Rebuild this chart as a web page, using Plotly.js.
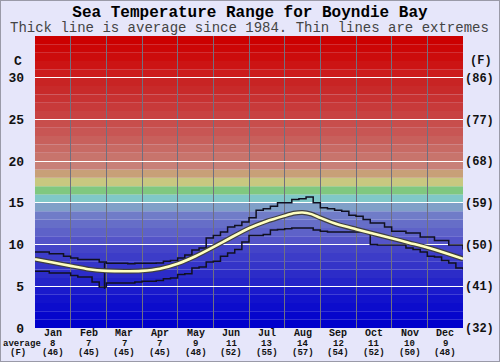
<!DOCTYPE html>
<html>
<head>
<meta charset="utf-8">
<script src="https://cdn.plot.ly/plotly-3.0.1.min.js"></script>
<style>
body{margin:0;background:#e6e6fa;}
#chart{width:500px;height:362px;}
#frame{position:absolute;left:0;top:0;width:498px;height:360px;border:1px solid #9a9aa8;pointer-events:none;}
</style>
</head>
<body>
<div id="chart"></div>
<div id="frame"></div>
<script>
// ---- data ----
const months = ['Jan','Feb','Mar','Apr','May','Jun','Jul','Aug','Sep','Oct','Nov','Dec'];
const monthAvgC = [8,7,7,7,9,11,13,14,12,11,10,9];
const monthAvgF = [46,45,45,45,48,52,55,57,54,52,50,48];

// average line (x in months from 1 Jan)
const avgX = [0,0.5,1,1.5,2,2.5,3,3.5,4,4.5,5,5.5,6,6.5,7,7.25,7.5,7.75,8,8.5,9,9.5,10,10.5,11,11.5,12];
const avgC = [8.25,7.85,7.45,7.05,6.85,6.8,6.85,7.1,7.7,8.6,9.7,10.85,11.95,12.8,13.45,13.75,13.85,13.65,13.2,12.4,11.85,11.3,10.75,10.2,9.65,9.0,8.3];

// extremes, sampled every 0.2 month
const maxC = [9.1,9.1,8.9,8.9,8.6,8.4,8.2,8.2,8.2,7.9,
              7.75,7.75,7.75,7.7,7.75,7.75,7.75,7.8,8.0,8.1,
              8.4,8.75,9.35,9.6,10.8,11.1,11.5,12.1,12.3,12.7,
              13.2,14.1,14.3,14.6,15.0,15.0,15.4,15.5,15.7,15.0,
              14.4,14.3,14.1,14.0,13.5,13.4,13.0,12.6,12.6,12.1,
              11.6,11.6,11.4,11.4,10.9,10.9,10.5,10.5,9.95,9.95,9.4];
const minC = [6.8,6.8,6.6,6.6,6.6,6.3,6.1,6.1,5.5,4.9,
              5.4,5.4,5.4,5.4,5.5,5.6,5.6,5.7,5.9,6.0,
              6.4,6.5,7.2,7.3,7.9,8.0,8.6,9.0,9.4,10.3,
              11.1,11.1,11.2,11.75,11.8,11.9,12.0,12.0,12.0,11.75,
              11.6,11.5,11.5,11.5,11.5,11.5,11.5,10.0,9.95,9.95,
              9.95,9.95,9.6,9.4,9.1,8.6,8.5,8.1,7.8,7.2,7.0];
const extX = maxC.map((_, i) => i / 5);

// odd one-day spike near 1 March
const spikeX = [1.95, 1.95];
const spikeC = [7.8, 4.7];

const yTicksC = [0,5,10,15,20,25,30];
const yTicksF = ['(32)','(41)','(50)','(59)','(68)','(77)','(86)'];

// background temperature bands, one per degree C (0..34)
const bandColors = [
 'rgb(0,0,204)','rgb(6,6,204)','rgb(12,12,204)','rgb(18,18,204)','rgb(26,26,204)',
 'rgb(36,36,200)','rgb(44,44,200)','rgb(52,52,200)','rgb(60,60,200)','rgb(68,68,200)',
 'rgb(84,84,200)','rgb(94,98,200)','rgb(102,110,200)','rgb(112,124,200)','rgb(128,160,200)',
 'rgb(128,200,200)','rgb(128,200,128)','rgb(200,200,128)','rgb(200,160,120)','rgb(200,128,120)',
 'rgb(200,116,108)','rgb(200,106,100)','rgb(200,96,92)','rgb(200,86,84)','rgb(200,78,76)',
 'rgb(200,66,66)','rgb(200,58,58)','rgb(200,50,50)','rgb(200,42,42)','rgb(200,36,36)',
 'rgb(204,28,28)','rgb(204,20,20)','rgb(204,12,12)','rgb(204,6,6)','rgb(204,0,0)'
];

// ---- build ----
const FONT = 'Liberation Mono, Courier New, monospace';

const shapes = bandColors.map((c, i) => ({
  type:'rect', xref:'x', yref:'y', x0:0, x1:months.length, y0:i, y1:i+1,
  fillcolor:c, line:{width:0}, layer:'below'
}));

const traces = [
  {x:extX, y:maxC, mode:'lines', line:{color:'#101020', width:1.5, shape:'hv'}, hoverinfo:'skip'},
  {x:extX, y:minC, mode:'lines', line:{color:'#101020', width:1.5, shape:'hv'}, hoverinfo:'skip'},
  {x:spikeX, y:spikeC, mode:'lines', line:{color:'#101020', width:1.5}, hoverinfo:'skip'},
  {x:avgX, y:avgC, mode:'lines', line:{color:'#404040', width:5, shape:'spline', smoothing:0.5}, hoverinfo:'skip'},
  {x:avgX, y:avgC, mode:'lines', line:{color:'#ffffc0', width:2.6, shape:'spline', smoothing:0.5}, hoverinfo:'skip'},
  {x:[0], y:[0], yaxis:'y2', mode:'markers', marker:{opacity:0}, hoverinfo:'skip'}
];

const annotations = [];
months.forEach((m, i) => {
  annotations.push({xref:'x', yref:'paper', x:i+0.5, y:0, yanchor:'middle', yshift:-5.5, showarrow:false, borderpad:0,
    text:'<b>'+m+'</b>', font:{family:FONT, size:10, color:'#111'}});
  annotations.push({xref:'x', yref:'paper', x:i+0.5, y:0, yanchor:'middle', yshift:-15.5, showarrow:false, borderpad:0,
    text:'<b>'+monthAvgC[i]+'</b>', font:{family:FONT, size:9, color:'#111'}});
  annotations.push({xref:'x', yref:'paper', x:i+0.5, y:0, yanchor:'middle', yshift:-25, showarrow:false, borderpad:0,
    text:'<b>('+monthAvgF[i]+')</b>', font:{family:FONT, size:9, color:'#111'}});
});
annotations.push({xref:'paper', yref:'paper', x:-0.077, y:0, xanchor:'left', yanchor:'middle', yshift:-15.5, showarrow:false, borderpad:0,
  text:'<b>average</b>', font:{family:FONT, size:9, color:'#111'}});
annotations.push({xref:'paper', yref:'paper', x:-0.04, y:0, xanchor:'center', yanchor:'middle', yshift:-25, showarrow:false, borderpad:0,
  text:'<b>(F)</b>', font:{family:FONT, size:9, color:'#111'}});
annotations.push({xref:'paper', yref:'y', x:-0.04, y:32, xanchor:'center', yanchor:'middle', showarrow:false,
  text:'<b>C</b>', font:{family:FONT, size:13, color:'#111'}});
annotations.push({xref:'paper', yref:'y', x:1.042, y:32, xanchor:'center', yanchor:'middle', showarrow:false,
  text:'<b>(F)</b>', font:{family:FONT, size:12, color:'#111'}});
annotations.push({xref:'paper', yref:'paper', x:0.5, y:1, xanchor:'center', yanchor:'middle', yshift:8, showarrow:false, borderpad:0,
  text:'Thick line is average since 1984. Thin lines are extremes', font:{family:FONT, size:14, color:'#444'}});

const layout = {
  width:500, height:362,
  margin:{l:35, r:37, t:36, b:34},
  paper_bgcolor:'#e6e6fa', plot_bgcolor:'#e6e6fa',
  showlegend:false,
  title:{text:'<b>Sea Temperature Range for Boyndie Bay</b>', font:{family:FONT, size:16, color:'#000'},
         x:0.5, xanchor:'center', y:1-11/362, yanchor:'middle', yref:'container'},
  xaxis:{range:[0, months.length], tickmode:'array', tickvals:months.map((_, i) => i).slice(1),
         showticklabels:false, ticks:'', showgrid:true, gridcolor:'#707080', gridwidth:1,
         zeroline:false, showline:false, fixedrange:true},
  yaxis:{range:[0,35], tickmode:'array', tickvals:yTicksC, ticktext:yTicksC.map(String),
         showgrid:true, gridcolor:'#ffffff', gridwidth:1.2, zeroline:false, ticks:'',
         ticklabelstandoff:10, tickfont:{family:FONT, size:13, color:'#111', weight:'bold'}, fixedrange:true},
  yaxis2:{range:[0,35], overlaying:'y', side:'right', tickmode:'array', tickvals:yTicksC, ticktext:yTicksF,
          showgrid:false, zeroline:false, ticks:'', ticklabelstandoff:1,
          tickfont:{family:FONT, size:12, color:'#111', weight:'bold'}, fixedrange:true},
  shapes:shapes,
  annotations:annotations
};

Plotly.newPlot('chart', traces, layout, {staticPlot:true, displayModeBar:false});
</script>
</body>
</html>
